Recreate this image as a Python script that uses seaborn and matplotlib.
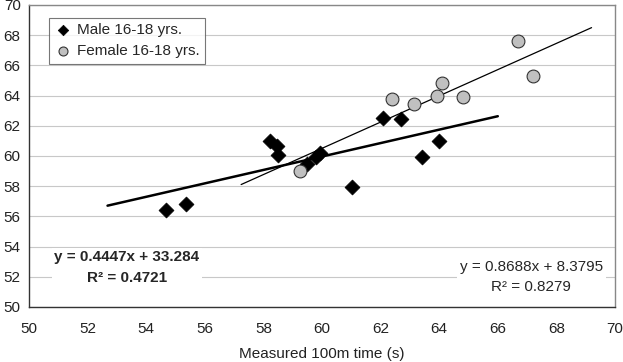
import numpy as np
import pandas as pd
import seaborn as sns
import matplotlib.pyplot as plt

# valores
male_x = [54.68, 55.35, 58.22, 58.45, 58.51, 59.48, 59.78, 59.93, 61.01, 62.09, 62.70, 63.42, 64.00]
male_y = [56.42, 56.82, 60.99, 60.68, 60.07, 59.47, 59.95, 60.18, 57.97, 62.54, 62.43, 59.95, 60.97]
female_x = [59.24, 62.39, 63.13, 63.94, 64.11, 64.82, 66.70, 67.20]
female_y = [59.03, 63.75, 63.44, 63.97, 64.83, 63.88, 67.60, 65.30]

# coeficientes de las lineas de tendencia (Excel)
male_fit = (0.4447, 33.284, 0.4721)
female_fit = (0.8688, 8.3795, 0.8279)
forecast = 2.0

ticks = list(range(50, 71, 2))

df_m = pd.DataFrame({"x": male_x, "y": male_y})
df_f = pd.DataFrame({"x": female_x, "y": female_y})

sns.set_style("white")
plt.rcParams["font.family"] = ["Liberation Sans", "DejaVu Sans"]

fig = plt.figure(figsize=(6.23, 3.62), dpi=100)
ax = fig.add_axes([29 / 623, 1 - 307 / 362, 586 / 623, 302 / 362])

# lineas de tendencia
xm = np.array([min(male_x) - forecast, max(male_x) + forecast])
ax.plot(xm, male_fit[0] * xm + male_fit[1], color="black", lw=1.8, zorder=2)
xf = np.array([min(female_x) - forecast, max(female_x) + forecast])
ax.plot(xf, female_fit[0] * xf + female_fit[1], color="black", lw=0.9, zorder=2)

sns.scatterplot(data=df_m, x="x", y="y", marker="D", s=58, color="black",
                edgecolor="black", linewidth=0.5, label="Male 16-18 yrs.", ax=ax, zorder=3)
sns.scatterplot(data=df_f, x="x", y="y", marker="o", s=85, color="#c0c0c0",
                edgecolor="#333333", linewidth=0.8, label="Female 16-18 yrs.", ax=ax, zorder=3)

ax.set_xlim(50, 70)
ax.set_ylim(50, 70)
ax.set_xticks(ticks)
ax.set_yticks(ticks)
ax.yaxis.grid(True, color="#c8c8c8", lw=0.8)
ax.set_axisbelow(True)
ax.tick_params(axis="both", direction="out", length=3, width=0.8, color="#333333",
               labelsize=11, labelcolor="#222222")
ax.tick_params(axis="x", pad=8)
ax.tick_params(axis="y", pad=3)
for s in ["left", "bottom"]:
    ax.spines[s].set_color("#333333")
    ax.spines[s].set_linewidth(1.0)
for s in ["top", "right"]:
    ax.spines[s].set_color("#888888")
    ax.spines[s].set_linewidth(1.0)

ax.set_xlabel("Measured 100m time (s)", fontsize=11, color="#222222", labelpad=8)
ax.set_ylabel("")

leg = ax.legend(loc="upper left", bbox_to_anchor=(0.034, 0.957), borderaxespad=0,
                fancybox=False, frameon=True, fontsize=11, handletextpad=0.3,
                handlelength=1.2, borderpad=0.35, labelspacing=0.45, markerscale=0.7)
leg.get_frame().set_edgecolor("#555555")
leg.get_frame().set_linewidth(0.8)

ax.text(0.167, 0.13, f"y = {male_fit[0]}x + {male_fit[1]}\nR\u00b2 = {male_fit[2]}",
        transform=ax.transAxes, ha="center", va="center", multialignment="center",
        fontsize=11, fontweight="bold", linespacing=1.6, zorder=4,
        bbox=dict(facecolor="white", edgecolor="none", pad=2))
ax.text(0.857, 0.1, f"y = {female_fit[0]}x + {female_fit[1]}\nR\u00b2 = {female_fit[2]}",
        transform=ax.transAxes, ha="center", va="center", multialignment="center",
        fontsize=11, linespacing=1.6, zorder=4,
        bbox=dict(facecolor="white", edgecolor="none", pad=2))

fig.savefig("out.png", dpi=100, facecolor="white")
